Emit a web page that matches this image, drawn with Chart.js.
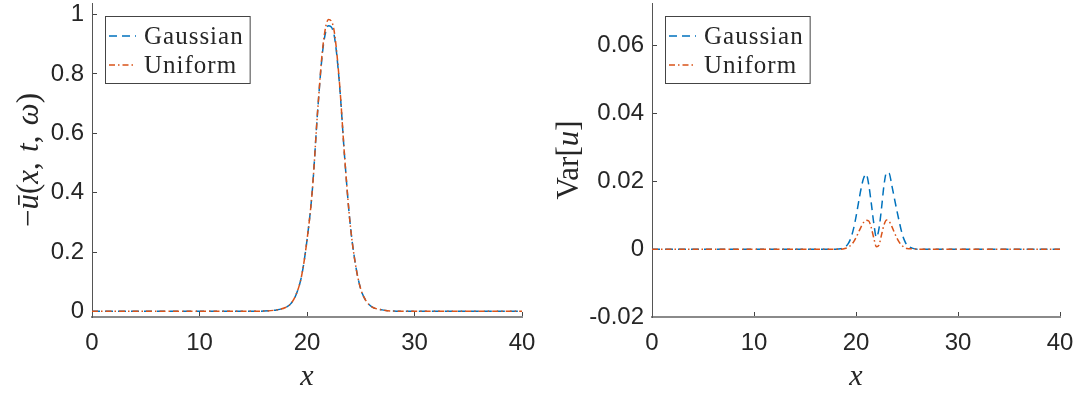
<!DOCTYPE html>
<html lang="en">
<head>
<meta charset="UTF-8">
<title>Mean and variance of u</title>
<script src="https://cdn.jsdelivr.net/npm/chart.js"></script>
<style>
  body { margin: 0; background: #fff; }
  .panel { position: absolute; top: 0; height: 397px; }
  #left { left: 0; width: 540px; }
  #right { left: 540px; width: 537px; }
</style>
</head>
<body>
<div class="panel" id="left"><canvas id="meanChart"></canvas></div>
<div class="panel" id="right"><canvas id="varChart"></canvas></div>

<script>
// mean profile -u(x,t,w)
const xMean = [0, 5, 10, 14, 16, 17, 18, 18.5, 19, 19.5, 20, 20.5, 21, 21.5, 22, 22.5, 23, 23.5, 24, 24.5, 25, 25.5, 26, 27, 28, 30, 35, 40];
const meanGaussian = [0, 0, 0, 0, 0.001, 0.004, 0.013, 0.026, 0.058, 0.12, 0.24, 0.41, 0.68, 0.89, 0.962, 0.935, 0.775, 0.52, 0.30, 0.16, 0.075, 0.035, 0.016, 0.005, 0.001, 0, 0, 0];
const meanUniform = [0, 0, 0, 0, 0.001, 0.004, 0.013, 0.026, 0.058, 0.12, 0.24, 0.41, 0.68, 0.90, 0.983, 0.95, 0.78, 0.52, 0.30, 0.16, 0.075, 0.035, 0.016, 0.005, 0.001, 0, 0, 0];

// variance Var[u]
const xVar = [0, 10, 18, 18.5, 19, 19.25, 19.5, 19.75, 20, 20.25, 20.5, 20.75, 21, 21.25, 21.5, 21.75, 22, 22.25, 22.5, 22.75, 23, 23.25, 23.5, 23.75, 24, 24.25, 24.5, 24.75, 25, 25.5, 26, 30, 40];
const varGaussian = [0, 0, 0, 0.0001, 0.0008, 0.0017, 0.0033, 0.0059, 0.0095, 0.0138, 0.0179, 0.021, 0.0221, 0.019, 0.0135, 0.0075, 0.0035, 0.006, 0.012, 0.019, 0.0226, 0.0224, 0.019, 0.0152, 0.0115, 0.008, 0.0048, 0.0026, 0.0012, 0.0003, 0, 0, 0];
const varUniform = [0, 0, 0, 0, 0.0003, 0.0006, 0.0012, 0.0021, 0.0034, 0.005, 0.0066, 0.0079, 0.0085, 0.0083, 0.0063, 0.0032, 0.0007, 0.0012, 0.0042, 0.0072, 0.0086, 0.0082, 0.0068, 0.005, 0.0033, 0.002, 0.0011, 0.0005, 0.0002, 0.0001, 0, 0, 0];

const seriesNames = ['Gaussian', 'Uniform'];
const xTicks = [0, 10, 20, 30, 40];
const xTickLabels = ['0', '10', '20', '30', '40'];
const meanTicks = [0, 0.2, 0.4, 0.6, 0.8, 1];
const meanTickLabels = ['0', '0.2', '0.4', '0.6', '0.8', '1'];
const varTicks = [-0.02, 0, 0.02, 0.04, 0.06];
const varTickLabels = ['-0.02', '0', '0.02', '0.04', '0.06'];

const BLUE = '#0072BD';
const ORANGE = '#D95319';
const TEXT = '#262626';
const SERIF = '"Liberation Serif", "DejaVu Serif", serif';
const SANS = '"Liberation Sans", Arial, sans-serif';

function points(xs, ys) {
  return xs.map((x, i) => ({ x: x, y: ys[i] }));
}

// axis title made of upright/italic pieces, like a LaTeX label
function drawRich(ctx, pieces, size) {
  const fonts = {
    up: size + 'px ' + SERIF,
    it: 'italic ' + size + 'px ' + SERIF
  };
  let total = 0;
  pieces.forEach(p => { ctx.font = fonts[p[1]]; total += ctx.measureText(p[0]).width; });
  let x = -total / 2;
  ctx.textBaseline = 'alphabetic';
  ctx.textAlign = 'left';
  pieces.forEach(p => {
    ctx.font = fonts[p[1]];
    ctx.fillText(p[0], x, 0);
    x += ctx.measureText(p[0]).width;
  });
}

const labelPlugin = {
  id: 'latexLabels',
  afterDraw(chart, args, opts) {
    const ctx = chart.ctx;
    const area = chart.chartArea;
    ctx.save();
    ctx.fillStyle = TEXT;
    // x label
    ctx.save();
    ctx.translate((area.left + area.right) / 2, 385);
    drawRich(ctx, opts.xTitle, 30);
    ctx.restore();
    // y label, rotated
    ctx.save();
    ctx.translate(opts.yTitleX, (area.top + area.bottom) / 2);
    ctx.rotate(-Math.PI / 2);
    drawRich(ctx, opts.yTitle, 31);
    ctx.restore();
    ctx.restore();
  }
};

const legendPlugin = {
  id: 'boxLegend',
  afterDatasetsDraw(chart) {
    const ctx = chart.ctx;
    const area = chart.chartArea;
    const left = Math.round(area.left) + 13;
    const top = 16;
    const rowH = 29;
    ctx.save();
    ctx.font = '25px ' + SERIF;
    ctx.letterSpacing = '1px';
    let textW = 0;
    chart.data.datasets.forEach(ds => { textW = Math.max(textW, ctx.measureText(ds.label).width); });
    const w = 39 + textW + 6;
    const h = 67;
    ctx.fillStyle = '#fff';
    ctx.fillRect(left, top, w, h);
    ctx.strokeStyle = '#444';
    ctx.lineWidth = 1;
    ctx.strokeRect(left + 0.5, top + 0.5, w, h);
    chart.data.datasets.forEach((ds, i) => {
      const cy = top + 20 + i * rowH;
      ctx.strokeStyle = ds.borderColor;
      ctx.lineWidth = 1.5;
      ctx.setLineDash(ds.borderDash);
      ctx.beginPath();
      ctx.moveTo(left + 4, cy);
      ctx.lineTo(left + 31, cy);
      ctx.stroke();
      ctx.setLineDash([]);
      ctx.fillStyle = TEXT;
      ctx.textBaseline = 'middle';
      ctx.textAlign = 'left';
      ctx.fillText(ds.label, left + 39, cy + 1);
    });
    ctx.restore();
  }
};

function makeChart(canvasId, xs, gauss, unif, yMin, yMax, yTicks, yTickLabels, yAxisWidth, rightPad, yTitle) {
  return new Chart(document.getElementById(canvasId), {
    type: 'line',
    data: {
      datasets: [
        {
          label: seriesNames[0],
          data: points(xs, gauss),
          borderColor: BLUE,
          borderWidth: 1.5,
          borderDash: [8, 5],
          pointRadius: 0,
          cubicInterpolationMode: 'monotone',
          order: 1
        },
        {
          label: seriesNames[1],
          data: points(xs, unif),
          borderColor: ORANGE,
          borderWidth: 1.5,
          borderDash: [6, 3, 1.5, 3],
          pointRadius: 0,
          cubicInterpolationMode: 'monotone',
          order: 0
        }
      ]
    },
    options: {
      responsive: true,
      maintainAspectRatio: false,
      animation: false,
      layout: { padding: { top: 3, right: rightPad, left: 0, bottom: 0 } },
      plugins: {
        legend: { display: false },
        tooltip: { enabled: false },
        latexLabels: { xTitle: [['x', 'it']], yTitle: yTitle, yTitleX: 38 }
      },
      scales: {
        x: {
          type: 'linear',
          min: 0,
          max: 40,
          afterBuildTicks: axis => { axis.ticks = xTicks.map(v => ({ value: v })); },
          afterFit: axis => {
            axis.height = 80;
            axis.paddingLeft = 0;
            axis.paddingRight = 0;
          },
          ticks: {
            callback: (v, i) => xTickLabels[i],
            color: TEXT,
            font: { family: SANS, size: 24 },
            padding: 17,
            maxRotation: 0
          },
          grid: { drawOnChartArea: false, drawTicks: true, tickLength: -5, color: '#444', tickWidth: 1 },
          border: { display: true, color: '#8a8a8a', width: 2 }
        },
        y: {
          min: yMin,
          max: yMax,
          afterBuildTicks: axis => { axis.ticks = yTicks.map(v => ({ value: v })); },
          afterFit: axis => {
            axis.width = yAxisWidth;
            axis.paddingTop = 0;
            axis.paddingBottom = 0;
          },
          ticks: {
            callback: (v, i) => yTickLabels[i],
            color: TEXT,
            font: { family: SANS, size: 24 },
            padding: 13
          },
          grid: { drawOnChartArea: false, drawTicks: true, tickLength: -5, color: '#444', tickWidth: 1 },
          border: { display: true, color: '#555', width: 1 }
        }
      }
    },
    plugins: [legendPlugin, labelPlugin]
  });
}

makeChart('meanChart', xMean, meanGaussian, meanUniform, -0.019, 1.039, meanTicks, meanTickLabels, 92, 18,
  [['\u2212', 'up'], ['\u016B', 'it'], ['(', 'up'], ['x', 'it'], [',\u2004', 'up'], ['t', 'it'], [',\u2004', 'up'], ['\u03C9', 'it'], [')', 'up']]);

makeChart('varChart', xVar, varGaussian, varUniform, -0.02, 0.0726, varTicks, varTickLabels, 112, 17,
  [['Var', 'up'], ['[', 'up'], ['u', 'it'], [']', 'up']]);
</script>
</body>
</html>
